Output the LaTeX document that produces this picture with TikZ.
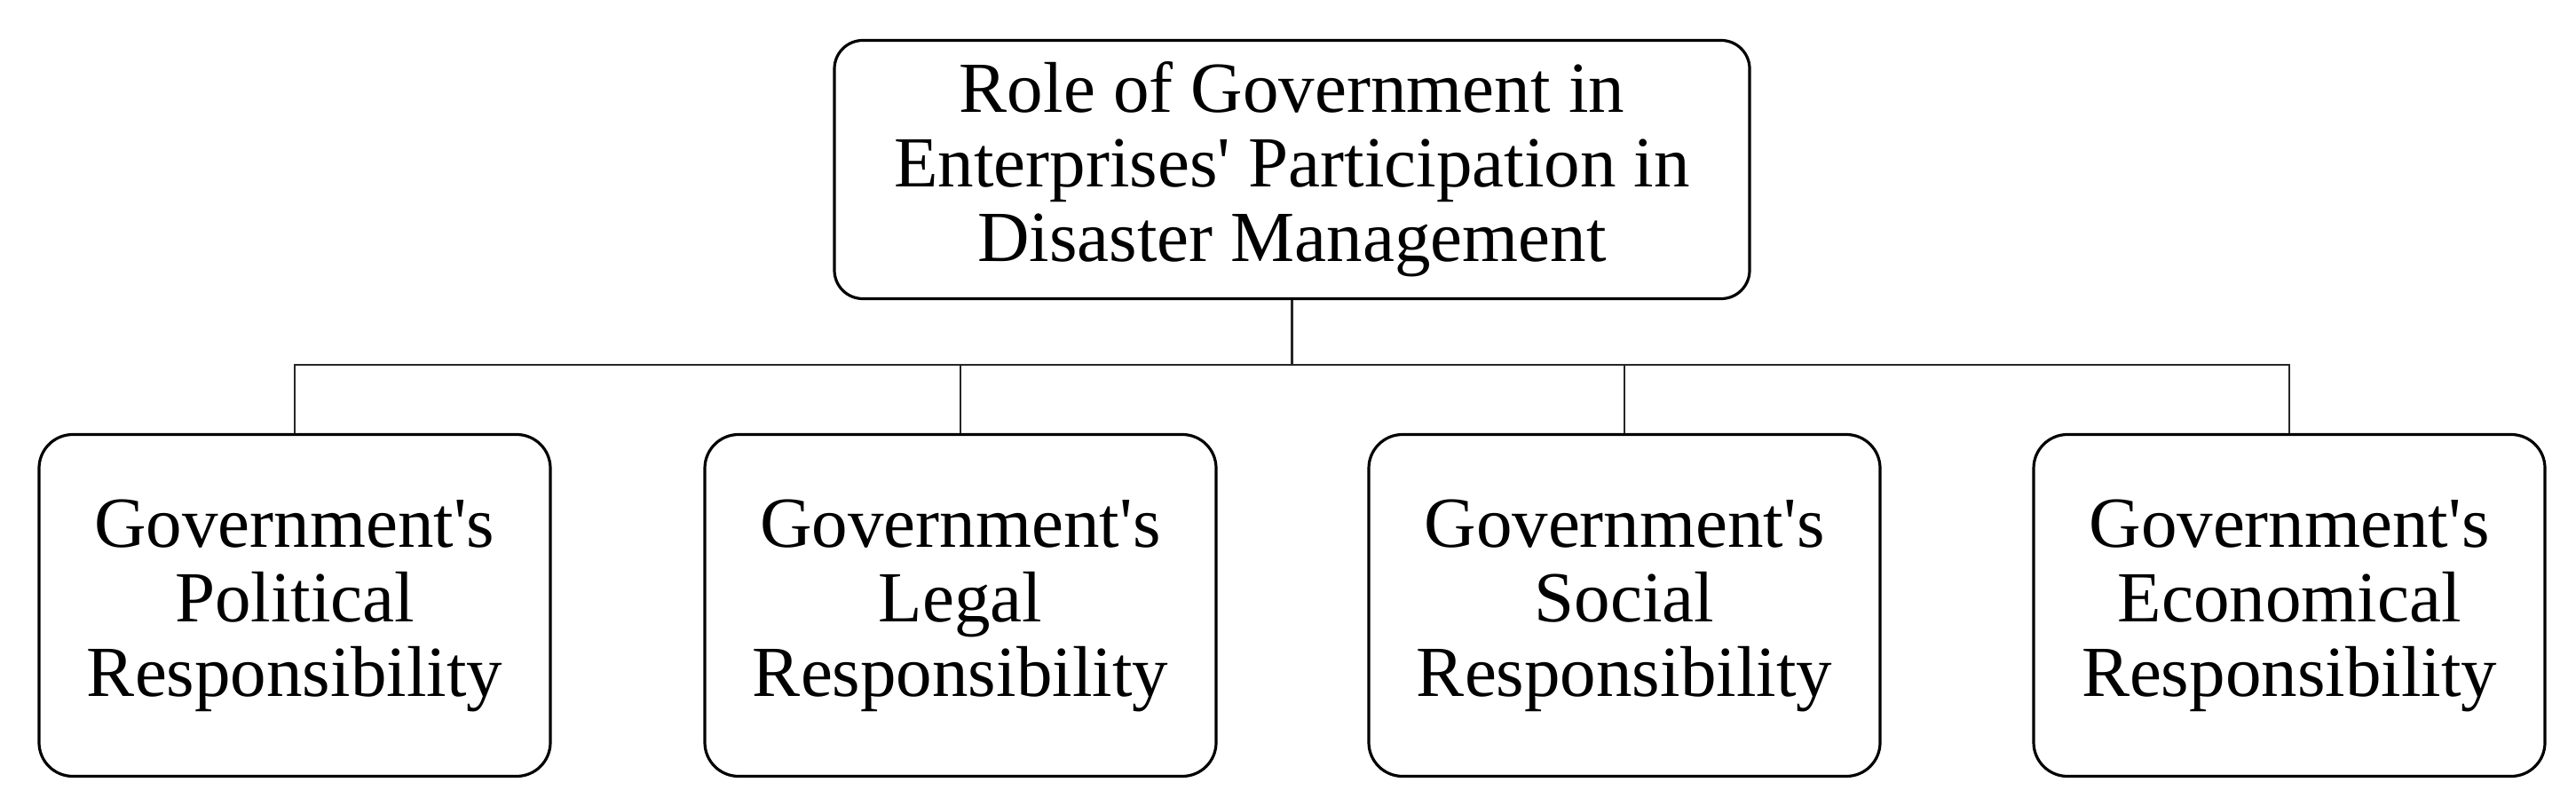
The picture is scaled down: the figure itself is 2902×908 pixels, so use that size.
\documentclass[tikz,border=0pt]{standalone}
\usepackage{fontspec}
\setmainfont{Liberation Serif}
\begin{document}
\begin{tikzpicture}[x=0.25pt,y=-0.25pt,
  topbox/.style={draw=black,line width=0.8pt,rounded corners=8pt,rectangle,
    minimum width=257.75pt,minimum height=72.75pt,inner sep=0pt,align=center,
    font=\fontsize{20.25}{21}\selectfont},
  subbox/.style={draw=black,line width=0.8pt,rounded corners=9.5pt,rectangle,
    minimum width=144pt,minimum height=96.25pt,inner sep=0pt,align=center,
    font=\fontsize{20.25}{21}\selectfont},
  conn/.style={draw=black!85,line width=0.55pt}]
\useasboundingbox (0,0) rectangle (2902,908);
\node[topbox] (top) at (1455.5,191) {Role of Government in\\Enterprises\textquotesingle{} Participation in\\Disaster Management};
\node[subbox] (b1) at (332,682) {Government\textquotesingle s\\Political\\Responsibility};
\node[subbox] (b2) at (1082,682) {Government\textquotesingle s\\Legal\\Responsibility};
\node[subbox] (b3) at (1830,682) {Government\textquotesingle s\\Social\\Responsibility};
\node[subbox] (b4) at (2579,682) {Government\textquotesingle s\\Economical\\Responsibility};
\coordinate (bus) at (1455.5,411);
\draw[conn] (top.south) -- (bus);
\draw[conn] (b1.north) -- (b1.north |- bus) -- (b4.north |- bus) -- (b4.north);
\draw[conn] (b2.north) -- (b2.north |- bus);
\draw[conn] (b3.north) -- (b3.north |- bus);
\end{tikzpicture}
\end{document}
